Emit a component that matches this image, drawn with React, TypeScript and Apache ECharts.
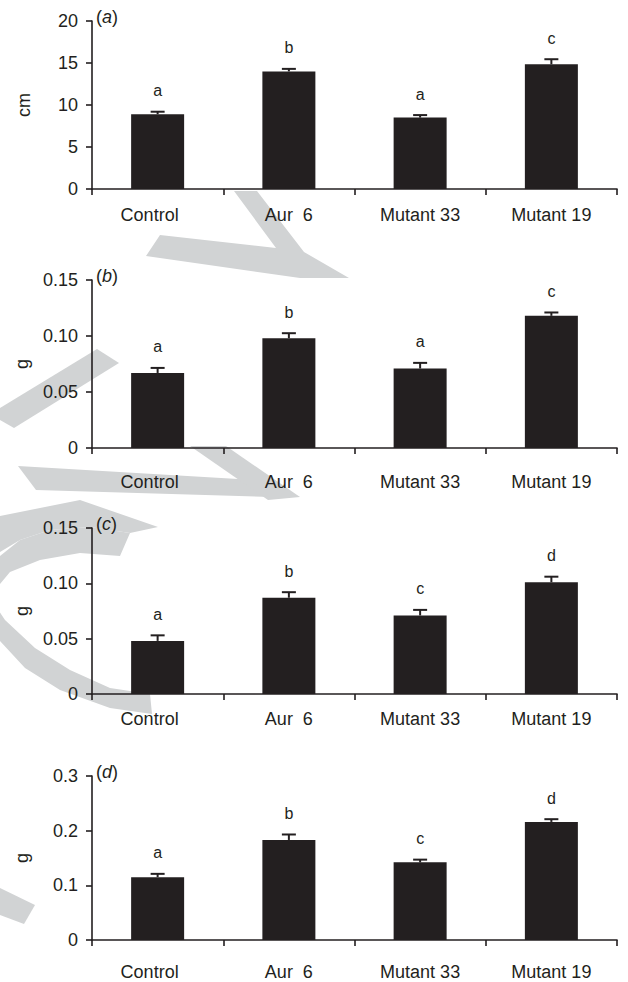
import React, { useEffect, useRef } from "react";
import * as echarts from "echarts";

// Treatments shared by all four panels
const categories = ["Control", "Aur  6", "Mutant 33", "Mutant 19"];

// (a) shoot length, cm
const aMeans = [8.9, 14.0, 8.5, 14.85];
const aErrors = [0.3, 0.3, 0.3, 0.6];
const aLetters = ["a", "b", "a", "c"];

// (b) mass, g
const bMeans = [0.067, 0.098, 0.071, 0.118];
const bErrors = [0.0045, 0.0045, 0.005, 0.003];
const bLetters = ["a", "b", "a", "c"];

// (c) mass, g
const cMeans = [0.048, 0.087, 0.071, 0.101];
const cErrors = [0.005, 0.005, 0.005, 0.005];
const cLetters = ["a", "b", "c", "d"];

// (d) mass, g
const dMeans = [0.115, 0.183, 0.142, 0.216];
const dErrors = [0.006, 0.01, 0.005, 0.005];
const dLetters = ["a", "b", "c", "d"];

const panelTags = ["a", "b", "c", "d"];
const yUnits = ["cm", "g", "g", "g"];
const yMax = [20, 0.15, 0.15, 0.3];
const yStep = [5, 0.05, 0.05, 0.1];
const yDecimals = [0, 2, 2, 1];

const INK = "#231f20";
const FONT = "'Liberation Sans', Arial, Helvetica, sans-serif";
const WATERMARK = "#d1d3d4";

// panel layout (pixels)
const gridTops = [21, 280, 528, 776];
const gridHeights = [168, 168, 166, 164];
const labelMargins = [17, 25, 16, 23];

const panels = [
  { means: aMeans, errors: aErrors, letters: aLetters },
  { means: bMeans, errors: bErrors, letters: bLetters },
  { means: cMeans, errors: cErrors, letters: cLetters },
  { means: dMeans, errors: dErrors, letters: dLetters },
];

// light diagonal watermark strokes behind the panels
const watermarkShapes: number[][][] = [
  [[234, 191], [257, 191], [304, 252], [349, 278], [300, 278], [146, 256], [160, 235], [276, 248]],
  [[97, 349], [119, 363], [14, 428], [0, 420], [0, 408]],
  [[18, 466], [255, 480], [272, 497], [36, 490]],
  [[190, 446], [226, 446], [300, 497], [268, 500]],
  [[0, 516], [80, 500], [158, 527], [130, 533], [90, 527], [50, 530], [20, 540], [0, 552]],
  [
    [130, 533], [90, 527], [50, 530], [20, 540], [0, 556], [-20, 600], [0, 641],
    [25, 668], [60, 690], [110, 708], [152, 714],
    [150, 694], [110, 688], [70, 670], [35, 648], [5, 620], [-5, 605], [-5, 590],
    [10, 572], [40, 560], [80, 553], [120, 556],
  ],
  [[0, 888], [35, 905], [24, 924], [0, 915]],
];

const textBase = { fontSize: 18, color: INK, fontFamily: FONT, fontWeight: "normal" as const };

export default function App() {
  const ref = useRef<HTMLDivElement>(null);

  useEffect(() => {
    if (!ref.current) return;
    const chart = echarts.init(ref.current, null, { renderer: "svg" });

    const grid = gridTops.map((top, i) => ({
      left: 92,
      right: 11,
      top,
      height: gridHeights[i],
      containLabel: false,
    }));

    const xAxis = panels.map((_, i) => ({
      type: "category",
      gridIndex: i,
      data: categories,
      axisLine: { show: true, lineStyle: { color: INK, width: 1.6 } },
      axisTick: { show: true, length: 6, inside: false, lineStyle: { color: INK, width: 1.6 } },
      axisLabel: {
        ...textBase,
        margin: labelMargins[i],
        interval: 0,
        formatter: (v: string, idx: number) => (idx === 0 ? `{first|${v}}` : `{rest|${v}}`),
        rich: {
          first: { ...textBase, padding: [0, 16, 0, 0] },
          rest: { ...textBase },
        },
      },
      splitLine: { show: false },
    }));

    const yAxis = panels.map((_, i) => ({
      type: "value",
      gridIndex: i,
      min: 0,
      max: yMax[i],
      interval: yStep[i],
      name: yUnits[i],
      nameLocation: "middle",
      nameGap: i === 0 ? 59 : 61,
      nameRotate: 90,
      nameTextStyle: { ...textBase },
      axisLine: { show: true, lineStyle: { color: INK, width: 1.6 } },
      axisTick: { show: true, length: 6, inside: false, lineStyle: { color: INK, width: 1.6 } },
      axisLabel: {
        ...textBase,
        margin: 14,
        formatter: (v: number) => (v === 0 ? "0" : v.toFixed(yDecimals[i])),
      },
      splitLine: { show: false },
    }));

    const barSeries = panels.map((p, i) => ({
      type: "bar",
      xAxisIndex: i,
      yAxisIndex: i,
      data: p.means,
      barWidth: 53,
      itemStyle: { color: INK },
      z: 2,
    }));

    const errorSeries = panels.map((p, i) => ({
      type: "custom",
      xAxisIndex: i,
      yAxisIndex: i,
      z: 3,
      data: p.means.map((m, k) => [k, m, p.errors[k]]),
      renderItem: (params: any, api: any) => {
        const k = api.value(0);
        const m = api.value(1);
        const e = api.value(2);
        const base = api.coord([k, m]);
        const top = api.coord([k, m + e]);
        const x = base[0];
        return {
          type: "group",
          children: [
            {
              type: "line",
              shape: { x1: x, y1: base[1], x2: x, y2: top[1] },
              style: { stroke: INK, lineWidth: 2 },
            },
            {
              type: "line",
              shape: { x1: x - 7, y1: top[1], x2: x + 7, y2: top[1] },
              style: { stroke: INK, lineWidth: 2 },
            },
            {
              type: "text",
              x,
              y: top[1] - 21,
              style: {
                text: p.letters[params.dataIndex],
                fill: INK,
                fontSize: 16,
                fontFamily: FONT,
                align: "center",
                verticalAlign: "middle",
              },
            },
          ],
        };
      },
    }));

    const title = panelTags.map((tag, i) => ({
      text: `{n|(}{i|${tag}}{n|)}`,
      left: 96,
      top: gridTops[i] - 13,
      padding: 0,
      textStyle: {
        fontWeight: "normal",
        rich: {
          n: { ...textBase },
          i: { ...textBase, fontStyle: "italic" },
        },
      },
    }));

    chart.setOption({
      animation: false,
      backgroundColor: "#ffffff",
      title,
      grid,
      xAxis,
      yAxis,
      series: [...barSeries, ...errorSeries],
      graphic: {
        elements: watermarkShapes.map((pts) => ({
          type: "polygon",
          z: -1,
          silent: true,
          shape: { points: pts },
          style: { fill: WATERMARK },
        })),
      },
    });

    return () => chart.dispose();
  }, []);

  return (
    <div
      ref={ref}
      style={{ position: "absolute", left: 0, top: 0, width: 628, height: 982 }}
    />
  );
}
